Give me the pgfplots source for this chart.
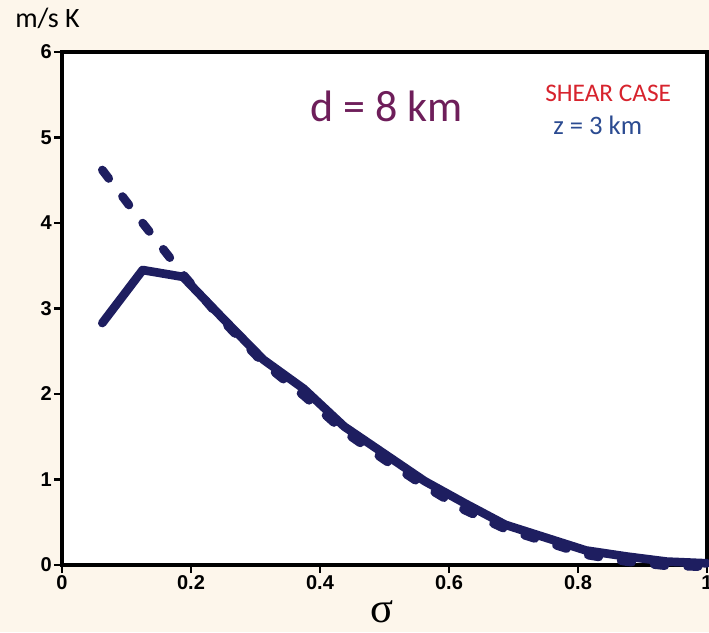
\documentclass[border=0pt]{standalone}
\usepackage{pgfplots}
\pgfplotsset{compat=1.18}
\usepackage{fontspec}
\newfontfamily\carlito{Carlito}
\newfontfamily\libsans{Liberation Sans}
\newfontfamily\libserif{Liberation Serif}

\definecolor{bgcream}{RGB}{253,246,235}
\definecolor{navy}{RGB}{30,30,96}
\definecolor{dpurple}{RGB}{110,30,90}
\definecolor{shearred}{RGB}{215,35,45}
\definecolor{zblue}{RGB}{43,75,145}

\begin{document}
\begin{tikzpicture}[x=0.75pt,y=0.75pt]
% background, 709 x 632 px; fixes the page size
\useasboundingbox (0,0) rectangle (709,632);
\fill[bgcream] (0,0) rectangle (709,632);

\begin{axis}[
    at={(46.5pt,50.25pt)}, anchor=south west,
    scale only axis,
    width=483.75pt, height=384.75pt,
    xmin=0, xmax=1, ymin=0, ymax=6,
    axis background/.style={fill=white},
    axis line style={line width=2.4pt, black},
    tick pos=left, tick align=outside,
    major tick length=6pt,
    tick style={line width=1.8pt, black},
    xtick={0,0.2,0.4,0.6,0.8,1},
    xticklabels={0,0.2,0.4,0.6,0.8,1},
    ytick={0,1,2,3,4,5,6},
    yticklabels={0,1,2,3,4,5,6},
    ticklabel style={font=\libsans\bfseries\fontsize{15}{15}\selectfont},
    xticklabel style={inner sep=2pt},
    yticklabel style={inner sep=1.5pt},
    clip=false,
]
% solid line
\addplot[navy, line width=6.5pt, line join=round, line cap=round] coordinates {
(0.0625,2.83) (0.125,3.45) (0.1875,3.37) (0.25,2.88) (0.3125,2.40)
(0.375,2.06) (0.4375,1.62) (0.5,1.30) (0.5625,0.98) (0.625,0.72)
(0.6875,0.47) (0.75,0.32) (0.8125,0.17) (0.875,0.10) (0.9375,0.04) (1.0,0.02)
};
% dashed line
\addplot[navy, line width=6.5pt, line join=round, line cap=round,
    dash pattern=on 8pt off 17pt] coordinates {
(0.0625,4.62) (0.125,4.00) (0.1875,3.40) (0.25,2.85) (0.3125,2.36)
(0.375,1.98) (0.4375,1.56) (0.5,1.23) (0.5625,0.92) (0.625,0.64)
(0.6875,0.42) (0.75,0.27) (0.8125,0.12) (0.875,0.04) (0.9375,-0.01) (1.0,-0.02)
};
\end{axis}

% labels in pixel units
\node[anchor=base west, inner sep=0pt, font=\carlito\fontsize{21}{21}\selectfont] at (15,604) {m/s K};
\node[anchor=base west, inner sep=0pt, text=dpurple, font=\carlito\fontsize{33}{33}\selectfont] at (310,510) {d = 8 km};
\node[anchor=base west, inner sep=0pt, text=shearred, font=\carlito\fontsize{19}{19}\selectfont] at (545,530) {SHEAR CASE};
\node[anchor=base west, inner sep=0pt, text=zblue, font=\carlito\fontsize{20}{20}\selectfont] at (553,497) {z = 3 km};
\node[anchor=base, inner sep=0pt, font=\libserif\fontsize{32}{32}\selectfont] at (382,10) {σ};
\end{tikzpicture}
\end{document}
